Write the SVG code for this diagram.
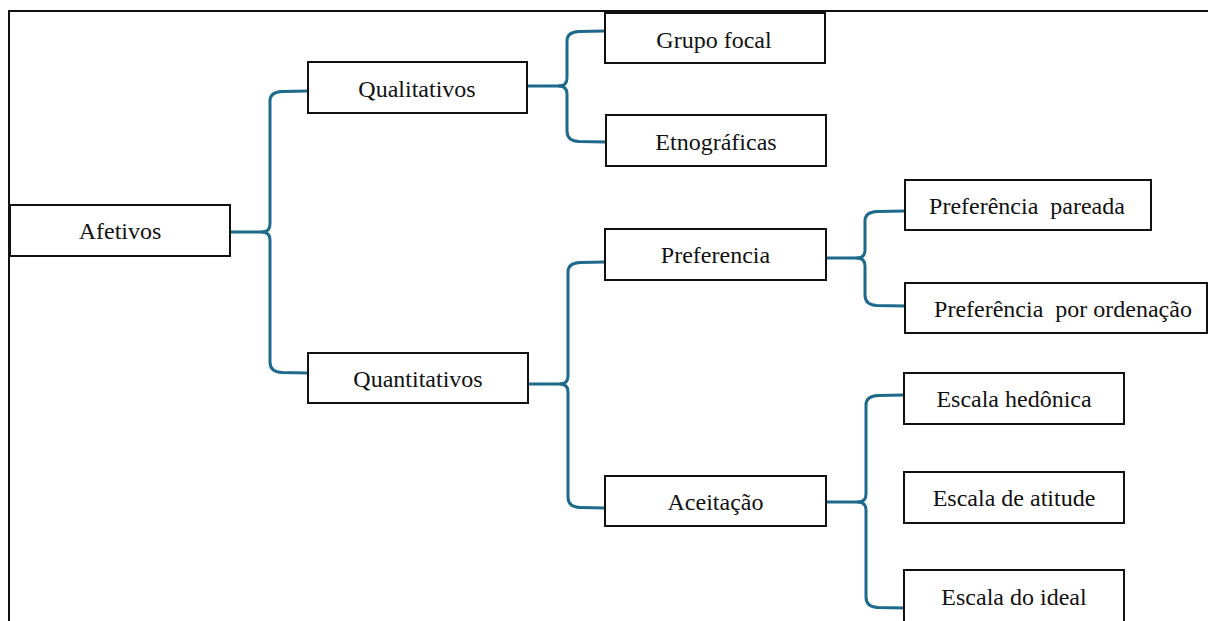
<svg xmlns="http://www.w3.org/2000/svg" width="1208" height="621" viewBox="0 0 1208 621">
<style>
.box{fill:#fff;stroke:#111;stroke-width:2}
.lbl{font-family:"Liberation Serif","Times New Roman",serif;font-size:24px;fill:#111;text-anchor:middle}
.con{fill:none;stroke:#1d6a8c;stroke-width:3;stroke-linecap:round;stroke-linejoin:round}
.frame{stroke:#111;stroke-width:2;fill:none}
</style>
<rect x="0" y="0" width="1208" height="621" fill="#fff"/>
<path class="frame" d="M9 621 L9 11 L1210 11"/>
<g id="connectors">
  <path class="con" d="M231 232 L262 232 Q270 232 270 224 L270 101 Q270 92 282 91.5 L308 91"/>
  <path class="con" d="M262 232 Q270 232 270 240 L270 362 Q270 372 282 372.5 L308 373"/>
  <path class="con" d="M528 86 L559 86 Q567 86 567 78 L567 41 Q567 32 579 31.5 L605 31"/>
  <path class="con" d="M559 86 Q567 86 567 94 L567 131 Q567 141 579 141.5 L606 142"/>
  <path class="con" d="M529 384 L560 384 Q568 384 568 376 L568 272 Q568 263 580 262.5 L605 262"/>
  <path class="con" d="M560 384 Q568 384 568 392 L568 497 Q568 507 580 507.5 L605 508"/>
  <path class="con" d="M827 258 L857 258 Q865 258 865 250 L865 221 Q865 212 877 211.5 L905 211"/>
  <path class="con" d="M857 258 Q865 258 865 266 L865 295 Q865 305 877 305.5 L905 306"/>
  <path class="con" d="M827 502 L858 502 Q866 502 866 494 L866 405 Q866 396 878 395.5 L904 395"/>
  <path class="con" d="M858 502 Q866 502 866 510 L866 597 Q866 607 878 607.5 L904 608"/>
</g>
<g id="afetivos"><rect class="box" x="10" y="205" width="220" height="51"/><text class="lbl" x="120" y="239">Afetivos</text></g>
<g id="qualitativos"><rect class="box" x="308" y="62" width="219" height="51"/><text class="lbl" x="417" y="97">Qualitativos</text></g>
<g id="grupo-focal"><rect class="box" x="605" y="13" width="220" height="50"/><text class="lbl" x="714" y="48">Grupo focal</text></g>
<g id="etnograficas"><rect class="box" x="606" y="115" width="220" height="51"/><text class="lbl" x="716" y="150">Etnográficas</text></g>
<g id="quantitativos"><rect class="box" x="308" y="353" width="220" height="50"/><text class="lbl" x="418" y="387">Quantitativos</text></g>
<g id="preferencia"><rect class="box" x="605" y="229" width="221" height="51"/><text class="lbl" x="715.5" y="263">Preferencia</text></g>
<g id="preferencia-pareada"><rect class="box" x="905" y="180" width="246" height="50"/><text class="lbl" x="1027" y="214" xml:space="preserve">Preferência  pareada</text></g>
<g id="preferencia-ordenacao"><rect class="box" x="905" y="283" width="302" height="50"/><text class="lbl" x="1063" y="317" xml:space="preserve">Preferência  por ordenação</text></g>
<g id="aceitacao"><rect class="box" x="605" y="476" width="221" height="50"/><text class="lbl" x="715.5" y="510">Aceitação</text></g>
<g id="escala-hedonica"><rect class="box" x="904" y="373" width="220" height="51"/><text class="lbl" x="1014" y="407">Escala hedônica</text></g>
<g id="escala-atitude"><rect class="box" x="904" y="472" width="220" height="51"/><text class="lbl" x="1014" y="506">Escala de atitude</text></g>
<g id="escala-ideal"><rect class="box" x="904" y="570" width="220" height="60"/><text class="lbl" x="1014" y="605">Escala do ideal</text></g>
</svg>
